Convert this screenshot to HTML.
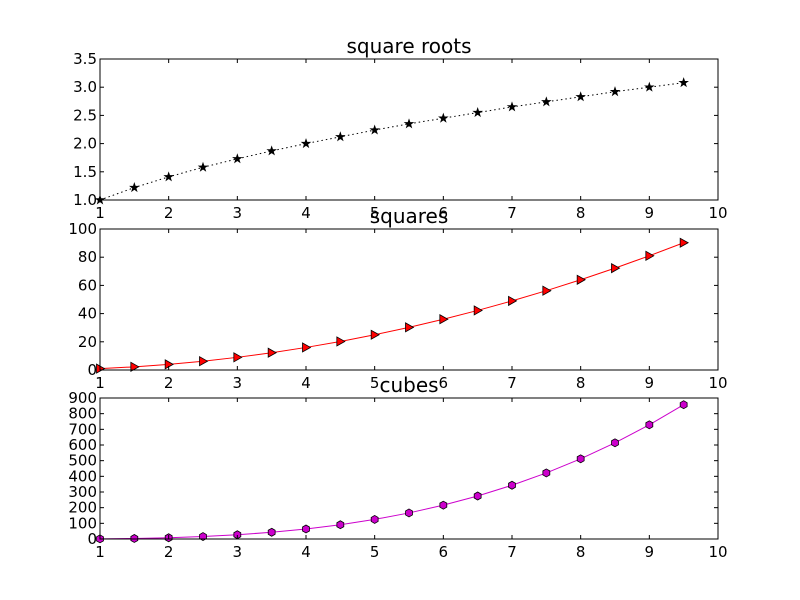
<!DOCTYPE html>
<html><head><meta charset="utf-8"><style>
html,body{margin:0;padding:0;background:#fff;}
svg{display:block;font-family:"DejaVu Sans","Liberation Sans",sans-serif;}
</style></head><body>
<svg id="c" width="800" height="600" xmlns="http://www.w3.org/2000/svg"></svg>
<script>
const xs = [1,1.5,2,2.5,3,3.5,4,4.5,5,5.5,6,6.5,7,7.5,8,8.5,9,9.5];
const sqrtVals = [1,1.22,1.41,1.58,1.73,1.87,2,2.12,2.24,2.35,2.45,2.55,2.65,2.74,2.83,2.92,3,3.08];
const squareVals = [1,2.25,4,6.25,9,12.25,16,20.25,25,30.25,36,42.25,49,56.25,64,72.25,81,90.25];
const cubeVals = [1,3.375,8,15.625,27,42.875,64,91.125,125,166.375,216,274.625,343,421.875,512,614.125,729,857.375];
const xTicks = [1,2,3,4,5,6,7,8,9,10];
const yTicks1 = ["1.0","1.5","2.0","2.5","3.0","3.5"];
const yTicks2 = ["0","20","40","60","80","100"];
const yTicks3 = ["0","100","200","300","400","500","600","700","800","900"];

const NS="http://www.w3.org/2000/svg";
const svg=document.getElementById('c');
function mk(t,a,p){const e=document.createElementNS(NS,t);for(const k in a)e.setAttribute(k,a[k]);(p||svg).appendChild(e);return e;}
const L=100,R=718;
function xScale(x){return L+(x-1)/9*(R-L);}

function panel(name,top,bot,ymin,ymax,yTicks,title,vals,color,dash,marker,mfill){
  const g=mk('g',{});
  
  
  const ys=v=>bot-(v-ymin)/(ymax-ymin)*(bot-top);
  let d=xs.map((x,i)=>(i?'L':'M')+xScale(x).toFixed(2)+' '+ys(vals[i]).toFixed(2)).join(' ');
  const ln=mk('path',{d:d,fill:'none',stroke:color,'stroke-width':1,'stroke-dasharray':dash||'none'},g);
  
  
  xs.forEach((x,i)=>{
    const cx=xScale(x),cy=ys(vals[i]);let pts=[];
    if(marker==='star'){for(let k=0;k<10;k++){const r=k%2?1.7:4.3,a=-Math.PI/2+k*Math.PI/5;pts.push([cx+r*Math.cos(a),cy+r*Math.sin(a)]);}}
    else if(marker==='tri'){pts=[[cx+4.5,cy],[cx-3.5,cy-4.5],[cx-3.5,cy+4.5]];}
    else{for(let k=0;k<6;k++){const a=-Math.PI/2+k*Math.PI/3;pts.push([cx+4*Math.cos(a),cy+4*Math.sin(a)]);}}
    const m=mk('polygon',{points:pts.map(p=>p[0].toFixed(2)+','+p[1].toFixed(2)).join(' '),fill:mfill,stroke:'#000','stroke-width':0.8},g);
    
    
  });
  const fr=mk('rect',{x:L,y:top,width:R-L,height:bot-top,fill:'none',stroke:'#000','stroke-width':1},g);
  
  
  xTicks.forEach(t=>{const x=xScale(t);
    mk('line',{x1:x,x2:x,y1:bot,y2:bot-4,stroke:'#000'},g);mk('line',{x1:x,x2:x,y1:top,y2:top+4,stroke:'#000'},g);
    const tx=mk('text',{x:x,y:bot+18,'font-size':15,'text-anchor':'middle'},g);tx.textContent=t;
    
    
  });
  yTicks.forEach(t=>{const y=ys(parseFloat(t));
    mk('line',{x1:L,x2:L+4,y1:y,y2:y,stroke:'#000'},g);mk('line',{x1:R,x2:R-4,y1:y,y2:y,stroke:'#000'},g);
    const tx=mk('text',{x:L-3,y:y+5,'font-size':15,'text-anchor':'end'},g);tx.textContent=t;
    
    
  });
  const tt=mk('text',{x:(L+R)/2,y:top-6,'font-size':20,'text-anchor':'middle'},g);tt.textContent=title;
  
  
}
panel('square-roots',59,200,1,3.5,yTicks1,'square roots',sqrtVals,'#000','1.5,3','star','#000');
panel('squares',229,370,0,100,yTicks2,'squares',squareVals,'#f00',null,'tri','#f00');
panel('cubes',398,539,0,900,yTicks3,'cubes',cubeVals,'#c0c',null,'hex','#c0c');
</script>
</body></html>
